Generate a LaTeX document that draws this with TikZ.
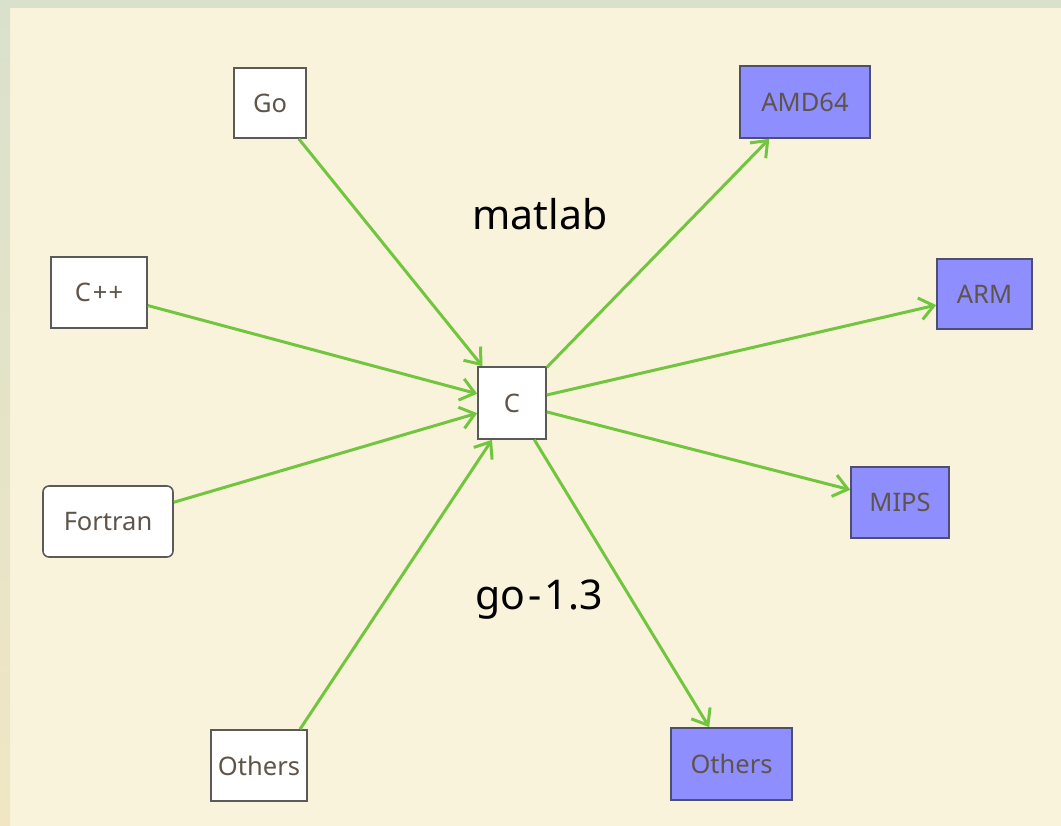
\documentclass[tikz,border=0pt]{standalone}
\usepackage{fontspec}
\setmainfont{Noto Sans}
\usetikzlibrary{arrows.meta}

\definecolor{paper}{HTML}{FAF3DC}
\definecolor{frametop}{HTML}{D9E1CC}
\definecolor{framebottom}{HTML}{F0E6C4}
\definecolor{link}{HTML}{72C53E}
\definecolor{target}{HTML}{8E8EFF}
\definecolor{boxline}{HTML}{5A5A5A}
\definecolor{targetline}{HTML}{4E4E72}
\definecolor{boxtext}{HTML}{5E5449}

\tikzset{
  lang/.style={draw=boxline, line width=1.6pt, fill=white, text=boxtext,
    font=\fontsize{25.5}{28}\selectfont, inner sep=0pt},
  arch/.style={lang, fill=target, draw=targetline},
  flow/.style={draw=link, line width=3pt,
    -{Straight Barb[length=14pt,width=22pt,line width=3pt]}},
  caption/.style={text=black, font=\fontsize{41}{46}\selectfont}
}

\begin{document}
\begin{tikzpicture}[x=1pt,y=-1pt]
  % page and frame
  \fill[paper] (0,0) rectangle (1061,826);
  \fill[frametop] (0,0) rectangle (1061,8);
  \shade[top color=frametop, bottom color=framebottom] (0,8) rectangle (10,826);
  \useasboundingbox (0,0) rectangle (1061,826);

  % source languages
  \node[lang, minimum width=72pt, minimum height=70pt] (go) at (270,103) {Go};
  \node[lang, minimum width=96pt, minimum height=71pt] (cpp) at (99,292.5) {C\kern2pt+\kern1pt+};
  \node[lang, rounded corners=6pt, minimum width=130pt, minimum height=71pt] (fortran) at (108,521.5) {Fortran};
  \node[lang, minimum width=96pt, minimum height=71pt] (othersin) at (259,765.5) {Others};

  % hub
  \node[lang, minimum width=68pt, minimum height=72pt] (c) at (512,403) {C};

  % target architectures
  \node[arch, minimum width=130pt, minimum height=72pt] (amd) at (805,102) {AMD64};
  \node[arch, minimum width=95pt, minimum height=70pt] (arm) at (984.5,294) {ARM};
  \node[arch, minimum width=98pt, minimum height=71pt] (mips) at (900,502.5) {MIPS};
  \node[arch, minimum width=121pt, minimum height=72pt] (othersout) at (731.5,764) {Others};

  % captions
  \node[caption] (matlab) at (540,214) {matlab};
  \node[caption] (gover) at (539,600) {go\kern3pt-\kern3pt1.3};

  % links into C
  \draw[flow] (go) -- (c);
  \draw[flow] (cpp) -- (c);
  \draw[flow] (fortran) -- (c);
  \draw[flow] ([xshift=41pt]othersin.north) -- ([xshift=-20pt]c.south);

  % links out of C
  \draw[flow] (c) -- (amd);
  \draw[flow] (c) -- (arm);
  \draw[flow] (c) -- (mips);
  \draw[flow] (c) -- (othersout);
\end{tikzpicture}
\end{document}
